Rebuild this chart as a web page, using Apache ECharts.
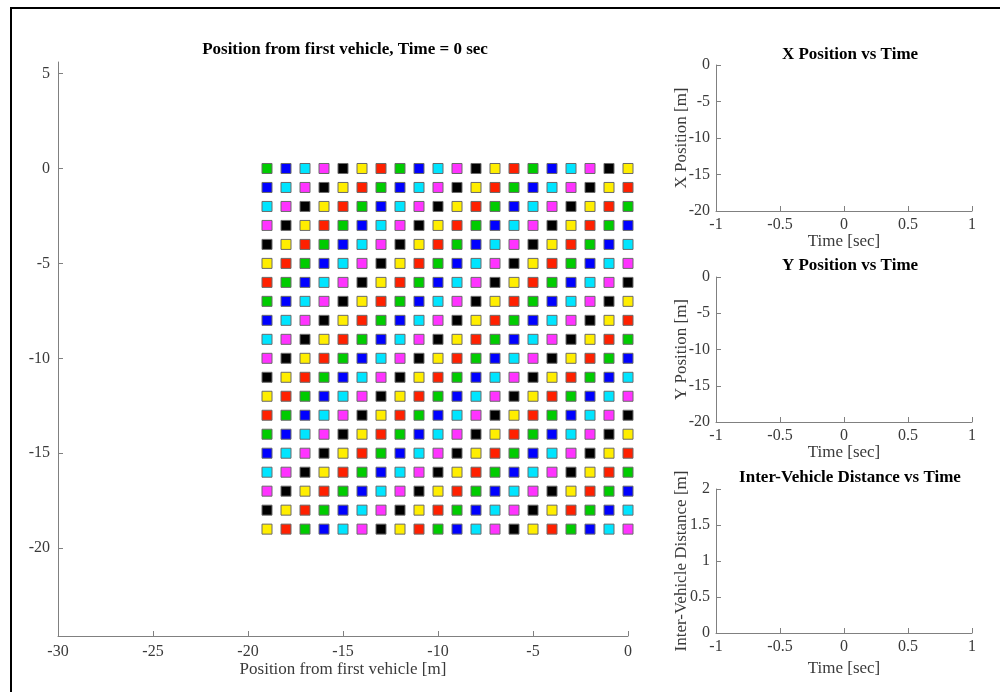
<!DOCTYPE html>
<html>
<head>
<meta charset="utf-8">
<title>Vehicle platoon</title>
<script src="https://cdn.jsdelivr.net/npm/echarts@6/dist/echarts.min.js"></script>
<style>
  html, body { margin: 0; padding: 0; background: #fff; }
  #chartPlatoon { width: 1000px; height: 692px; }
</style>
</head>
<body>
<div id="chartPlatoon"></div>
<script>
  // vehicle grid positions (m) at t = 0
  var colX = [-19, -18, -17, -16, -15, -14, -13, -12, -11, -10, -9, -8, -7, -6, -5, -4, -3, -2, -1, 0];
  var rowY = [0, -1, -2, -3, -4, -5, -6, -7, -8, -9, -10, -11, -12, -13, -14, -15, -16, -17, -18, -19];
  // colour code of each vehicle, one string per row, read left to right
  var rowColors = [
    'GBCMKYRGBCMKYRGBCMKY',
    'BCMKYRGBCMKYRGBCMKYR',
    'CMKYRGBCMKYRGBCMKYRG',
    'MKYRGBCMKYRGBCMKYRGB',
    'KYRGBCMKYRGBCMKYRGBC',
    'YRGBCMKYRGBCMKYRGBCM',
    'RGBCMKYRGBCMKYRGBCMK',
    'GBCMKYRGBCMKYRGBCMKY',
    'BCMKYRGBCMKYRGBCMKYR',
    'CMKYRGBCMKYRGBCMKYRG',
    'MKYRGBCMKYRGBCMKYRGB',
    'KYRGBCMKYRGBCMKYRGBC',
    'YRGBCMKYRGBCMKYRGBCM',
    'RGBCMKYRGBCMKYRGBCMK',
    'GBCMKYRGBCMKYRGBCMKY',
    'BCMKYRGBCMKYRGBCMKYR',
    'CMKYRGBCMKYRGBCMKYRG',
    'MKYRGBCMKYRGBCMKYRGB',
    'KYRGBCMKYRGBCMKYRGBC',
    'YRGBCMKYRGBCMKYRGBCM'
  ];
  var palette = {
    G: '#00cc00', B: '#0000ff', C: '#00e5ff', M: '#ff33ff',
    K: '#000000', Y: '#ffee00', R: '#ff2000'
  };
  // tick labels
  var posXTicks = [-30, -25, -20, -15, -10, -5, 0];
  var posYTicks = [-20, -15, -10, -5, 0, 5];

  var fontFam = '"Liberation Serif", "Times New Roman", serif';
  var axisGrey = '#808080';
  var textGrey = '#3a3a3a';

  function vehicleData() {
    var result = [];
    for (var r = 0; r < rowY.length; r++) {
      for (var c = 0; c < colX.length; c++) {
        result.push({
          value: [colX[c], rowY[r]],
          itemStyle: { color: palette[rowColors[r].charAt(c)] }
        });
      }
    }
    return result;
  }

  function baseAxis(extra) {
    var ax = {
      axisLine: { show: true, onZero: false, lineStyle: { color: axisGrey, width: 1 } },
      axisTick: { show: true, inside: true, length: 5, lineStyle: { color: axisGrey } },
      axisLabel: { color: textGrey, fontFamily: fontFam, fontSize: 16, margin: 6 },
      splitLine: { show: false },
      nameTextStyle: { color: textGrey, fontFamily: fontFam, fontSize: 17 },
      nameLocation: 'middle',
      nameMoveOverlap: false
    };
    for (var k in extra) { ax[k] = extra[k]; }
    return ax;
  }

  function titleAt(text, cx, top) {
    return {
      text: text, left: cx, top: top, textAlign: 'center',
      textStyle: { fontFamily: fontFam, fontSize: 17, fontWeight: 'bold', color: '#000' }
    };
  }

  var chart = echarts.init(document.getElementById('chartPlatoon'));
  chart.setOption({
    animation: false,
    backgroundColor: '#fff',
    title: [
      titleAt('Position from first vehicle, Time = 0 sec', 340, 36),
      titleAt('X Position vs Time', 845, 41),
      titleAt('Y Position vs Time', 845, 252),
      titleAt('Inter-Vehicle Distance vs Time', 845, 464)
    ],
    graphic: [{
      type: 'polyline',
      shape: { points: [[11, 692], [11, 8], [1000, 8]] },
      style: { stroke: '#000', lineWidth: 2, fill: null }
    }],
    grid: [
      { left: 58, right: 372, top: 62, bottom: 56 },
      { left: 716, right: 28, top: 65, bottom: 481 },
      { left: 716, right: 28, top: 277, bottom: 270 },
      { left: 716, right: 28, top: 489, bottom: 59 }
    ],
    xAxis: [
      baseAxis({
        gridIndex: 0, type: 'value', min: -30, max: 0, interval: 5,
        name: 'Position from first vehicle [m]', nameGap: 25,
        axisLabel: { color: textGrey, fontFamily: fontFam, fontSize: 16, margin: 8,
          customValues: posXTicks },
        axisTick: { show: true, inside: true, length: 5, lineStyle: { color: axisGrey },
          customValues: posXTicks }
      }),
      baseAxis({ gridIndex: 1, type: 'value', min: -1, max: 1, interval: 0.5,
        name: 'Time [sec]', nameGap: 22 }),
      baseAxis({ gridIndex: 2, type: 'value', min: -1, max: 1, interval: 0.5,
        name: 'Time [sec]', nameGap: 22 }),
      baseAxis({ gridIndex: 3, type: 'value', min: -1, max: 1, interval: 0.5,
        name: 'Time [sec]', nameGap: 27 })
    ],
    yAxis: [
      baseAxis({
        gridIndex: 0, type: 'value', min: -24.63, max: 5.61,
        axisLabel: { color: textGrey, fontFamily: fontFam, fontSize: 16, margin: 8,
          customValues: posYTicks },
        axisTick: { show: true, inside: true, length: 5, lineStyle: { color: axisGrey },
          customValues: posYTicks }
      }),
      baseAxis({ gridIndex: 1, type: 'value', min: -20, max: 0, interval: 5,
        name: 'X Position [m]', nameGap: 26 }),
      baseAxis({ gridIndex: 2, type: 'value', min: -20, max: 0, interval: 5,
        name: 'Y Position [m]', nameGap: 26 }),
      baseAxis({ gridIndex: 3, type: 'value', min: 0, max: 2, interval: 0.5,
        name: 'Inter-Vehicle Distance [m]', nameGap: 26 })
    ],
    series: [
      {
        name: 'vehicles',
        type: 'scatter',
        xAxisIndex: 0,
        yAxisIndex: 0,
        symbol: 'rect',
        symbolSize: 10,
        itemStyle: { borderColor: '#6a6a6a', borderWidth: 1, opacity: 1 },
        data: vehicleData()
      },
      { type: 'line', xAxisIndex: 1, yAxisIndex: 1, data: [] },
      { type: 'line', xAxisIndex: 2, yAxisIndex: 2, data: [] },
      { type: 'line', xAxisIndex: 3, yAxisIndex: 3, data: [] }
    ]
  });
</script>
</body>
</html>
